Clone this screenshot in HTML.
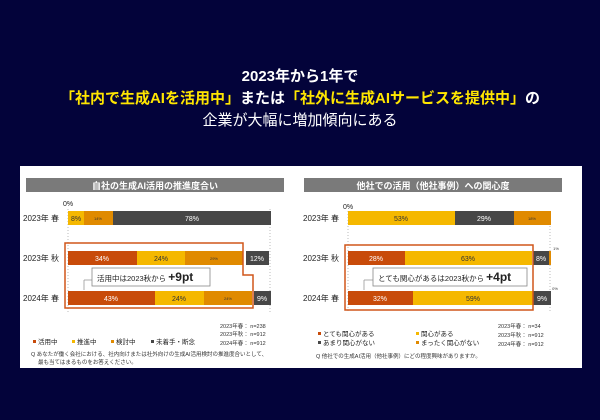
<!DOCTYPE html>
<html><head><meta charset="utf-8"><style>
html,body{margin:0;padding:0;background:#03033a;}
svg{display:block;font-family:"Liberation Sans","Noto Sans CJK JP",sans-serif;}
</style></head><body>
<svg width="600" height="420" viewBox="0 0 600 420" xmlns="http://www.w3.org/2000/svg">
<rect width="600" height="420" fill="#03033a"/>
<g font-weight="bold" font-size="15" text-anchor="middle">
<text x="300" y="81" fill="#fff">2023年から1年で</text>
<text x="300" y="103" fill="#ffe600">「社内で生成AIを活用中」<tspan fill="#fff">または</tspan>「社外に生成AIサービスを提供中」<tspan fill="#fff">の</tspan></text>
<text x="300" y="125" fill="#fff" font-weight="normal">企業が大幅に増加傾向にある</text>
</g>
<rect x="20" y="166" width="562" height="202" fill="#fff"/>
<!-- left panel -->
<rect x="26" y="178" width="258" height="14" fill="#7a7a7a"/>
<text x="155" y="189" fill="#fff" font-size="9" text-anchor="middle" font-weight="bold">自社の生成AI活用の推進度合い</text>
<text x="63" y="206" font-size="7" fill="#222">0%</text>
<line x1="68" y1="209" x2="68" y2="312" stroke="#bbb" stroke-dasharray="1,2"/>
<line x1="270" y1="209" x2="270" y2="312" stroke="#bbb" stroke-dasharray="1,2"/>
<g font-size="8" fill="#222"><text x="23" y="221">2023年 春</text><text x="23" y="261">2023年 秋</text><text x="23" y="301">2024年 春</text></g>
<g font-size="7" text-anchor="middle">
<rect x="68" y="211" width="16" height="14" fill="#f5b800"/><text x="76" y="221" fill="#333">8%</text>
<rect x="84" y="211" width="29" height="14" fill="#e08a00"/><text x="98" y="220" font-size="4" fill="#333">14%</text>
<rect x="113" y="211" width="158" height="14" fill="#474747"/><text x="192" y="221" fill="#fff">78%</text>
<rect x="68" y="251" width="69" height="14" fill="#c84b0a"/><text x="102" y="261" fill="#fff">34%</text>
<rect x="137" y="251" width="48" height="14" fill="#f5b800"/><text x="161" y="261" fill="#333">24%</text>
<rect x="185" y="251" width="58" height="14" fill="#e08a00"/><text x="214" y="260" font-size="4" fill="#333">29%</text>
<rect x="246" y="251" width="23" height="14" fill="#474747"/><text x="257" y="261" fill="#fff">12%</text>
<rect x="68" y="291" width="87" height="14" fill="#c84b0a"/><text x="111" y="301" fill="#fff">43%</text>
<rect x="155" y="291" width="49" height="14" fill="#f5b800"/><text x="179" y="301" fill="#333">24%</text>
<rect x="204" y="291" width="48" height="14" fill="#e08a00"/><text x="228" y="300" font-size="4" fill="#333">24%</text>
<rect x="254" y="291" width="17" height="14" fill="#474747"/><text x="262" y="301" fill="#fff">9%</text>
</g>
<path d="M65 243 H243 V275 H253 V308 H65 Z" fill="none" stroke="#d0561a" stroke-width="1.5"/>
<line x1="84" y1="280" x2="84" y2="290" stroke="#999" stroke-width="0.8"/>
<line x1="84" y1="280" x2="92" y2="280" stroke="#999" stroke-width="0.8"/>
<rect x="92" y="268" width="118" height="18" fill="#fff" stroke="#888" stroke-width="0.8"/>
<text x="97" y="281" font-size="7.5" fill="#222">活用中は2023秋から <tspan font-size="12" font-weight="bold">+9pt</tspan></text>
<g font-size="6.5" fill="#222">
<rect x="33" y="340" width="3" height="3" fill="#c84b0a"/><text x="38" y="344">活用中</text>
<rect x="72" y="340" width="3" height="3" fill="#f5b800"/><text x="77" y="344">推進中</text>
<rect x="111" y="340" width="3" height="3" fill="#e08a00"/><text x="116" y="344">検討中</text>
<rect x="151" y="340" width="3" height="3" fill="#474747"/><text x="156" y="344">未着手・断念</text>
</g>
<g font-size="5.5" fill="#333">
<text x="220" y="328">2023年春： n=238</text><text x="220" y="336">2023年秋： n=912</text><text x="220" y="345">2024年春： n=912</text>
<text x="31" y="356">Q あなたが働く会社における、社内向けまたは社外向けの生成AI活用検討の推進度合いとして、</text>
<text x="38" y="364">最も当てはまるものをお答えください。</text>
</g>
<!-- right panel -->
<rect x="304" y="178" width="258" height="14" fill="#7a7a7a"/>
<text x="433" y="189" fill="#fff" font-size="9" text-anchor="middle" font-weight="bold">他社での活用（他社事例）への関心度</text>
<text x="343" y="209" font-size="7" fill="#222">0%</text>
<line x1="348" y1="211" x2="348" y2="312" stroke="#bbb" stroke-dasharray="1,2"/>
<line x1="550" y1="211" x2="550" y2="312" stroke="#bbb" stroke-dasharray="1,2"/>
<g font-size="8" fill="#222"><text x="303" y="221">2023年 春</text><text x="303" y="261">2023年 秋</text><text x="303" y="301">2024年 春</text></g>
<g font-size="7" text-anchor="middle">
<rect x="348" y="211" width="107" height="14" fill="#f5b800"/><text x="401" y="221" fill="#333">53%</text>
<rect x="455" y="211" width="59" height="14" fill="#474747"/><text x="484" y="221" fill="#fff">29%</text>
<rect x="514" y="211" width="37" height="14" fill="#e08a00"/><text x="532" y="220" font-size="4" fill="#333">18%</text>
<rect x="348" y="251" width="57" height="14" fill="#c84b0a"/><text x="376" y="261" fill="#fff">28%</text>
<rect x="405" y="251" width="127" height="14" fill="#f5b800"/><text x="468" y="261" fill="#333">63%</text>
<rect x="533" y="251" width="16" height="14" fill="#474747"/><text x="541" y="261" fill="#fff">8%</text>
<rect x="549" y="251" width="2" height="14" fill="#e08a00"/>
<rect x="348" y="291" width="65" height="14" fill="#c84b0a"/><text x="380" y="301" fill="#fff">32%</text>
<rect x="413" y="291" width="120" height="14" fill="#f5b800"/><text x="473" y="301" fill="#333">59%</text>
<rect x="533" y="291" width="18" height="14" fill="#474747"/><text x="542" y="301" fill="#fff">9%</text>
<text x="556" y="250" font-size="4" fill="#333">1%</text>
<text x="555" y="290" font-size="4" fill="#333">0%</text>
</g>
<rect x="345" y="245" width="188" height="65" fill="none" stroke="#d0561a" stroke-width="1.5"/>
<line x1="364" y1="280" x2="364" y2="290" stroke="#999" stroke-width="0.8"/>
<line x1="364" y1="280" x2="373" y2="280" stroke="#999" stroke-width="0.8"/>
<rect x="373" y="268" width="154" height="18" fill="#fff" stroke="#888" stroke-width="0.8"/>
<text x="378" y="281" font-size="7.5" fill="#222">とても関心があるは2023秋から <tspan font-size="12" font-weight="bold">+4pt</tspan></text>
<g font-size="6.5" fill="#222">
<rect x="318" y="332" width="3" height="3" fill="#c84b0a"/><text x="323" y="336">とても関心がある</text>
<rect x="416" y="332" width="3" height="3" fill="#f5b800"/><text x="421" y="336">関心がある</text>
<rect x="318" y="341" width="3" height="3" fill="#474747"/><text x="323" y="345">あまり関心がない</text>
<rect x="416" y="341" width="3" height="3" fill="#e08a00"/><text x="421" y="345">まったく関心がない</text>
</g>
<g font-size="5.5" fill="#333">
<text x="498" y="328">2023年春： n=34</text><text x="498" y="337">2023年秋： n=912</text><text x="498" y="346">2024年春： n=912</text>
<text x="316" y="358">Q 他社での生成AI活用（他社事例）にどの程度興味がありますか。</text>
</g>
</svg>
</body></html>
